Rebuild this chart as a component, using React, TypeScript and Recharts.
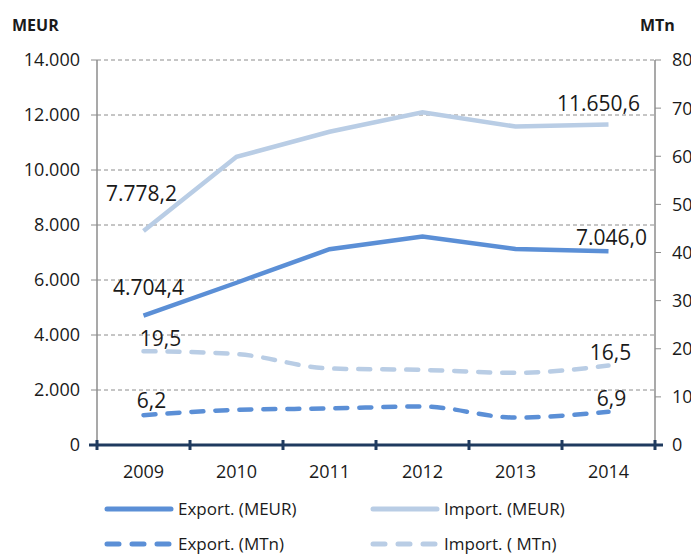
import { LineChart, Line, XAxis, YAxis, CartesianGrid, LabelList } from 'recharts';

const years = ['2009', '2010', '2011', '2012', '2013', '2014'];
const exportMeur = [4704.4, 5900, 7120, 7580, 7130, 7046.0];
const importMeur = [7778.2, 10480, 11390, 12100, 11580, 11650.6];
const exportMtn = [6.2, 7.3, 7.6, 8.0, 5.7, 6.9];
const importMtn = [19.5, 18.9, 15.9, 15.6, 15.0, 16.5];
const meurTicks = [0, 2000, 4000, 6000, 8000, 10000, 12000, 14000];
const mtnTicks = [0, 10, 20, 30, 40, 50, 60, 70, 80];

const data = years.map((year, i) => ({
  year,
  exportMeur: exportMeur[i],
  importMeur: importMeur[i],
  exportMtn: exportMtn[i],
  importMtn: importMtn[i],
}));

const FONT = '"Open Sans", sans-serif';
const DARK_BLUE = '#5B8FD6';
const LIGHT_BLUE = '#B9CDE5';
const NAVY = '#1F3A5F';
const AXIS_GRAY = '#8C8C8C';
const TEXT = '#1a1a1a';

const PLOT_LEFT = 89;
const PLOT_WIDTH = 558;
const BAND = PLOT_WIDTH / years.length;

function withDots(n: number) {
  return String(n).replace(/\B(?=(\d{3})+(?!\d))/g, '.');
}

function fmtDecimal(v: number) {
  const [i, d] = v.toFixed(1).split('.');
  return `${withDots(Number(i))},${d}`;
}

function YearTick({ x, y, payload, index, visibleTicksCount }: any) {
  const axisY = y - 20;
  const last = index === visibleTicksCount - 1;
  return (
    <g>
      <line x1={x - BAND / 2} x2={x - BAND / 2} y1={axisY - 5} y2={axisY + 5} stroke={NAVY} strokeWidth={3} />
      {index === 0 && (
        <line x1={x - BAND / 2 - 8} x2={x - BAND / 2} y1={axisY} y2={axisY} stroke={NAVY} strokeWidth={3} />
      )}
      {last && (
        <>
          <line x1={x + BAND / 2} x2={x + BAND / 2} y1={axisY - 5} y2={axisY + 5} stroke={NAVY} strokeWidth={3} />
          <line x1={x + BAND / 2} x2={x + BAND / 2 + 8} y1={axisY} y2={axisY} stroke={NAVY} strokeWidth={3} />
        </>
      )}
      <text x={x} y={y} dy="0.71em" textAnchor="middle" fontFamily={FONT} fontSize={18} fill={TEXT}>
        {payload.value}
      </text>
    </g>
  );
}

function endLabels(first: [number, number], last: [number, number]) {
  return (props: any) => {
    const { x, y, index, value } = props;
    if (index !== 0 && index !== years.length - 1) return null;
    const [dx, dy] = index === 0 ? first : last;
    return (
      <text
        x={x + dx}
        y={y + dy}
        textAnchor="middle"
        dominantBaseline="central"
        fontFamily={FONT}
        fontSize={21}
        fill={TEXT}
      >
        {fmtDecimal(Number(value))}
      </text>
    );
  };
}

function LegendItem({ color, dashed, label, x, y }: any) {
  return (
    <div style={{ position: 'absolute', left: x, top: y, display: 'flex', alignItems: 'center' }}>
      <svg width={70} height={10}>
        <line
          x1={3}
          x2={67}
          y1={5}
          y2={5}
          stroke={color}
          strokeWidth={5}
          strokeLinecap="round"
          strokeDasharray={dashed ? '12 13' : undefined}
        />
      </svg>
      <span style={{ marginLeft: 4, fontFamily: FONT, fontSize: 17, color: TEXT, lineHeight: '18px' }}>{label}</span>
    </div>
  );
}

export default function App() {
  return (
    <div style={{ position: 'relative', width: 691, height: 546 }}>
      <div style={{ position: 'absolute', left: 4, top: 6, fontFamily: FONT, fontWeight: 700, fontSize: 16, color: TEXT }}>
        MEUR
      </div>
      <div style={{ position: 'absolute', left: 632, top: 6, fontFamily: FONT, fontWeight: 700, fontSize: 16, color: TEXT }}>
        MTn
      </div>
      <LineChart
        width={691}
        height={482}
        data={data}
        margin={{ top: 52, right: 0, bottom: 12, left: 0 }}
        style={{ position: 'absolute', left: 0, top: 0 }}
      >
        <CartesianGrid yAxisId="left" vertical={false} stroke={AXIS_GRAY} strokeDasharray="4 3" />
        <XAxis
          dataKey="year"
          height={33}
          padding={{ left: BAND / 2, right: BAND / 2 }}
          axisLine={{ stroke: NAVY, strokeWidth: 3 }}
          tickLine={false}
          tickMargin={14}
          tick={<YearTick />}
          interval={0}
        />
        <YAxis
          yAxisId="left"
          width={PLOT_LEFT}
          domain={[0, 14000]}
          ticks={meurTicks}
          tickFormatter={(v: number) => withDots(v)}
          axisLine={{ stroke: AXIS_GRAY, strokeWidth: 1.5 }}
          tickLine={{ stroke: AXIS_GRAY }}
          tickSize={6}
          tickMargin={11}
          tick={{ fontFamily: FONT, fontSize: 18, fill: TEXT }}
        />
        <YAxis
          yAxisId="right"
          orientation="right"
          width={44}
          domain={[0, 80]}
          ticks={mtnTicks}
          axisLine={{ stroke: AXIS_GRAY, strokeWidth: 1.5 }}
          tickLine={{ stroke: AXIS_GRAY }}
          tickSize={6}
          tickMargin={11}
          tick={{ fontFamily: FONT, fontSize: 18, fill: TEXT }}
        />
        <Line
          yAxisId="left"
          dataKey="importMeur"
          type="linear"
          stroke={LIGHT_BLUE}
          strokeWidth={4.5}
          dot={false}
          isAnimationActive={false}
        >
          <LabelList dataKey="importMeur" content={endLabels([-2, -38], [-10, -22])} />
        </Line>
        <Line
          yAxisId="left"
          dataKey="exportMeur"
          type="linear"
          stroke={DARK_BLUE}
          strokeWidth={4.5}
          dot={false}
          isAnimationActive={false}
        >
          <LabelList dataKey="exportMeur" content={endLabels([5, -29], [3, -14])} />
        </Line>
        <Line
          yAxisId="right"
          dataKey="importMtn"
          type="monotone"
          stroke={LIGHT_BLUE}
          strokeWidth={4.5}
          strokeDasharray="12 12"
          strokeLinecap="round"
          dot={false}
          isAnimationActive={false}
        >
          <LabelList dataKey="importMtn" content={endLabels([17, -13], [2, -14])} />
        </Line>
        <Line
          yAxisId="right"
          dataKey="exportMtn"
          type="monotone"
          stroke={DARK_BLUE}
          strokeWidth={4.5}
          strokeDasharray="12 12"
          strokeLinecap="round"
          dot={false}
          isAnimationActive={false}
        >
          <LabelList dataKey="exportMtn" content={endLabels([8, -15], [3, -14])} />
        </Line>
      </LineChart>
      <LegendItem color={DARK_BLUE} label="Export. (MEUR)" x={96} y={492} />
      <LegendItem color={LIGHT_BLUE} label="Import. (MEUR)" x={362} y={492} />
      <LegendItem color={DARK_BLUE} dashed label="Export. (MTn)" x={96} y={527} />
      <LegendItem color={LIGHT_BLUE} dashed label="Import. ( MTn)" x={362} y={527} />
    </div>
  );
}
